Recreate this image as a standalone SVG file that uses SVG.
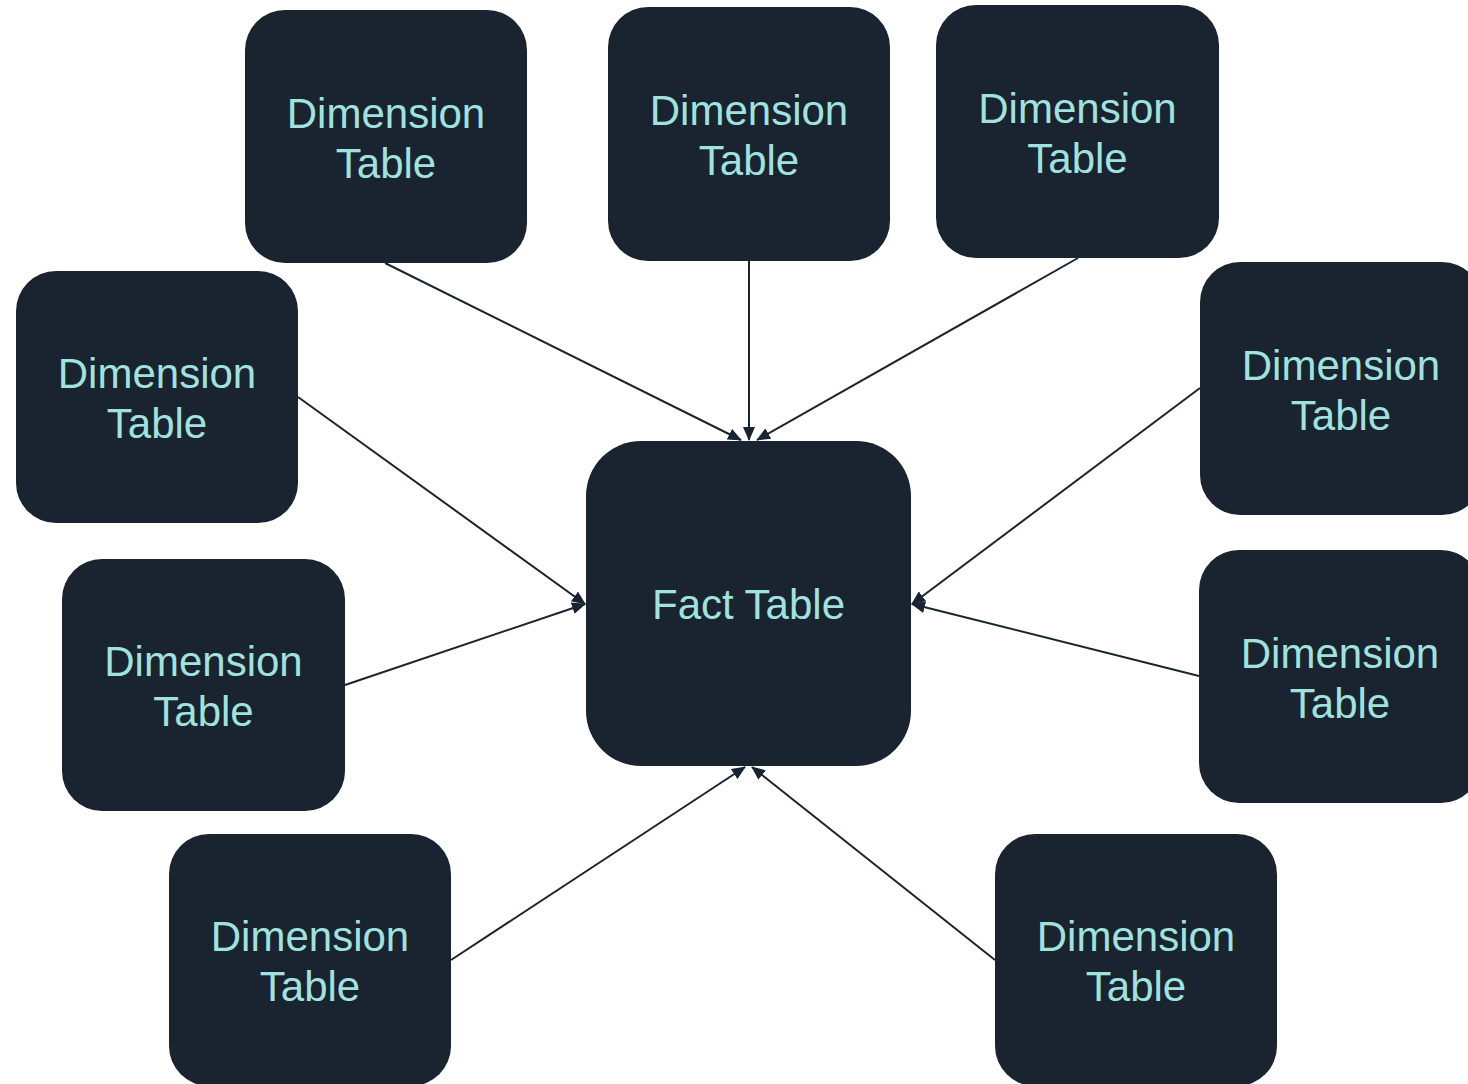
<svg xmlns="http://www.w3.org/2000/svg" width="1468" height="1084" viewBox="0 0 1468 1084">
<style>
.n{fill:#1a2330;}
.t{fill:#a0e2dd;font-family:"Liberation Sans",Arial,sans-serif;font-size:42px;text-anchor:middle;}
.c{stroke:#1a2330;stroke-width:2;fill:none;marker-end:url(#ah);}
</style>
<defs>
<marker id="ah" viewBox="0 0 14 12" refX="13" refY="6" markerWidth="14" markerHeight="12" markerUnits="userSpaceOnUse" orient="auto">
<path d="M0,0 L14,6 L0,12 Z" fill="#1a2330"/>
</marker>
</defs>
<rect width="1468" height="1084" fill="#ffffff"/>
<g id="connectors">
<line class="c" x1="385" y1="263" x2="741" y2="440"/>
<line class="c" x1="749" y1="261" x2="749" y2="440"/>
<line class="c" x1="1078" y1="258" x2="757" y2="440"/>
<line class="c" x1="298" y1="397" x2="585" y2="604"/>
<line class="c" x1="345" y1="685" x2="585" y2="604"/>
<line class="c" x1="1200" y1="388" x2="912" y2="604"/>
<line class="c" x1="1199" y1="676" x2="912" y2="604"/>
<line class="c" x1="451" y1="960" x2="745" y2="767"/>
<line class="c" x1="995" y1="960" x2="752" y2="767"/>
</g>
<g id="fact">
<rect class="n" x="586" y="441" width="325" height="325" rx="55"/>
<text class="t" x="748.5" y="619">Fact Table</text>
</g>
<g id="dim1">
<rect class="n" x="245" y="10" width="282" height="253" rx="40"/>
<text class="t" x="386" y="128">Dimension</text><text class="t" x="386" y="178">Table</text>
</g>
<g id="dim2">
<rect class="n" x="608" y="7" width="282" height="254" rx="40"/>
<text class="t" x="749" y="125">Dimension</text><text class="t" x="749" y="175">Table</text>
</g>
<g id="dim3">
<rect class="n" x="936" y="5" width="283" height="253" rx="40"/>
<text class="t" x="1077.5" y="123">Dimension</text><text class="t" x="1077.5" y="173">Table</text>
</g>
<g id="dim4">
<rect class="n" x="16" y="271" width="282" height="252" rx="40"/>
<text class="t" x="157" y="388">Dimension</text><text class="t" x="157" y="438">Table</text>
</g>
<g id="dim5">
<rect class="n" x="1200" y="262" width="282" height="253" rx="40"/>
<text class="t" x="1341" y="380">Dimension</text><text class="t" x="1341" y="430">Table</text>
</g>
<g id="dim6">
<rect class="n" x="62" y="559" width="283" height="252" rx="40"/>
<text class="t" x="203.5" y="676">Dimension</text><text class="t" x="203.5" y="726">Table</text>
</g>
<g id="dim7">
<rect class="n" x="1199" y="550" width="282" height="253" rx="40"/>
<text class="t" x="1340" y="668">Dimension</text><text class="t" x="1340" y="718">Table</text>
</g>
<g id="dim8">
<rect class="n" x="169" y="834" width="282" height="252" rx="40"/>
<text class="t" x="310" y="951">Dimension</text><text class="t" x="310" y="1001">Table</text>
</g>
<g id="dim9">
<rect class="n" x="995" y="834" width="282" height="252" rx="40"/>
<text class="t" x="1136" y="951">Dimension</text><text class="t" x="1136" y="1001">Table</text>
</g>
</svg>
